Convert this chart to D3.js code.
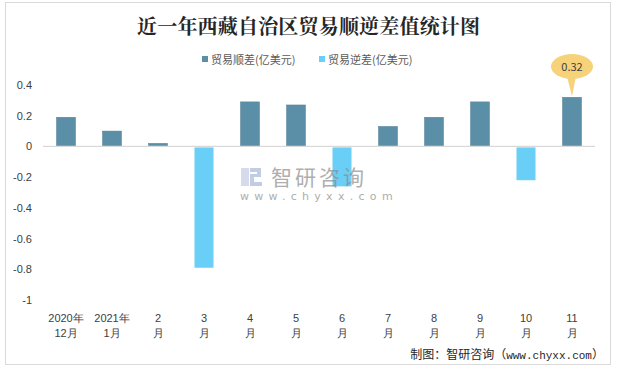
<!DOCTYPE html>
<html><head><meta charset="utf-8">
<script src="https://cdn.jsdelivr.net/npm/d3@7"></script>
<style>
html,body{margin:0;padding:0;background:#fff;}
svg{display:block;font-family:"Noto Sans CJK SC","Noto Sans",sans-serif;}
</style></head>
<body>
<svg id="c" width="618" height="368"></svg>
<script>
const title = "近一年西藏自治区贸易顺逆差值统计图";
const categories = ["2020年|12月","2021年|1月","2|月","3|月","4|月","5|月","6|月","7|月","8|月","9|月","10|月","11|月"];
const surplus = [0.19, 0.10, 0.02, null, 0.29, 0.27, null, 0.13, 0.19, 0.29, null, 0.32];
const deficit = [null, null, null, -0.79, null, null, -0.26, null, null, null, -0.22, null];
const seriesNames = ["贸易顺差(亿美元)", "贸易逆差(亿美元)"];
const yTicks = [0.4, 0.2, 0, -0.2, -0.4, -0.6, -0.8, -1];
const yTickLabels = ["0.4","0.2","0","-0.2","-0.4","-0.6","-0.8","-1"];
const colors = ["#5B8FA8", "#6ACFF6"];
const sourceParts = ["制图：智研咨询（", "www.chyxx.com", "）"];
const calloutIndex = 11;

const svg = d3.select("#c");
svg.append("rect").attr("x",5.5).attr("y",2.5).attr("width",605).attr("height",362)
  .attr("fill","#fff").attr("stroke","#d9d9d9").attr("stroke-width",1);

svg.append("text").attr("x",308.5).attr("y",34).attr("text-anchor","middle")
  .attr("font-size",20).attr("font-weight","bold").attr("fill","#262626")
  .attr("textLength",343).attr("lengthAdjust","spacing")
  .attr("font-family","'Noto Serif CJK SC','Noto Sans CJK SC',serif")
  .text(title);

// legend
const legendX = [202, 319];
seriesNames.forEach((n,i)=>{
  const g = svg.append("g").attr("transform",`translate(${legendX[i]},60)`);
  g.append("rect").attr("x",0).attr("y",-4).attr("width",6).attr("height",6).attr("fill",colors[i]);
  g.append("text").attr("x",9).attr("y",4).attr("font-size",11).attr("fill","#595959").text(n);
});

const x = d3.scaleBand().domain(categories).range([43,595]).paddingInner(0.587).paddingOuter(0.2935);
const y = d3.scaleLinear().domain([-1,0.4]).range([300,85]);

// y axis labels
const yAxis = d3.axisLeft(y).tickValues(yTicks).tickSize(0).tickPadding(0)
  .tickFormat((d,i)=>yTickLabels[i]);
const ya = svg.append("g").attr("transform","translate(32,0)").call(yAxis);
ya.select(".domain").remove();
ya.selectAll("text").attr("font-size",11).attr("fill","#404040")
  .attr("font-family","'Liberation Sans','Noto Sans',sans-serif");

// bars
const g = svg.append("g");
g.selectAll("rect.s").data(surplus.map((v,i)=>({v,c:categories[i]})).filter(d=>d.v!=null))
  .join("rect").attr("class","s")
  .attr("x",d=>x(d.c)).attr("width",x.bandwidth())
  .attr("y",d=>y(d.v)).attr("height",d=>y(0)-y(d.v))
  .attr("fill",colors[0]).attr("stroke","#537f96").attr("stroke-width",0.5);
g.selectAll("rect.d").data(deficit.map((v,i)=>({v,c:categories[i]})).filter(d=>d.v!=null))
  .join("rect").attr("class","d")
  .attr("x",d=>x(d.c)).attr("width",x.bandwidth())
  .attr("y",y(0)+1).attr("height",d=>y(d.v)-y(0)-1)
  .attr("fill",colors[1]);

// zero line
svg.append("line").attr("x1",43).attr("x2",595).attr("y1",y(0)).attr("y2",y(0))
  .attr("stroke","#d9d9d9").attr("stroke-width",1.2);

// x axis labels
const xAxis = d3.axisBottom(x).tickSize(0).tickPadding(0).tickFormat("");
const xa = svg.append("g").call(xAxis);
xa.select(".domain").remove();
xa.selectAll(".tick").each(function(d){
  const parts = d.split("|");
  const t = d3.select(this).append("text").attr("text-anchor","middle")
    .attr("font-size",11).attr("fill","#404040");
  parts.forEach((p,i)=>t.append("tspan").attr("x",0).attr("y",322+i*15).text(p));
});

// watermark
const wm = svg.append("g").attr("opacity",0.7);
wm.append("rect").attr("x",241).attr("y",168).attr("width",8).attr("height",18).attr("fill","#c5cde3");
wm.append("path").attr("d","M250,168 h11 v9 h-7 v5 h8 v4 h-12 v-12 h7 v-2 h-7 z").attr("fill","#a9b8d8");
wm.append("text").attr("x",271).attr("y",185).attr("font-size",21).attr("fill","#8c8c8c")
  .attr("letter-spacing",3).text("智研咨询");
wm.append("text").attr("x",240).attr("y",200).attr("font-size",11).attr("fill","#8c8c8c")
  .attr("letter-spacing",5.3).attr("font-family","'DejaVu Sans',sans-serif").text("www.chyxx.com");

// callout
const cx = x(categories[calloutIndex]) + x.bandwidth()/2;
const topY = y(surplus[calloutIndex]);
const ecx = cx, ecy = 66.5;
svg.append("path")
  .attr("d",`M${ecx-5},${ecy+10} L${cx},${topY-1} L${ecx+4},${ecy+10} Z`)
  .attr("fill","#F6D37A");
svg.append("ellipse").attr("cx",ecx).attr("cy",ecy).attr("rx",21).attr("ry",12.5)
  .attr("fill","#F6D37A");
svg.append("text").attr("x",ecx).attr("y",ecy+4).attr("text-anchor","middle")
  .attr("font-size",11).attr("fill","#404040").text(String(surplus[calloutIndex]));

// source
const st = svg.append("text").attr("x",604).attr("y",359).attr("text-anchor","end")
  .attr("font-size",12).attr("fill","#262626");
st.append("tspan").text(sourceParts[0]);
st.append("tspan").attr("font-family","'Liberation Mono','DejaVu Sans Mono',monospace").attr("font-size",11).text(sourceParts[1]);
st.append("tspan").text(sourceParts[2]);
</script>
</body></html>
